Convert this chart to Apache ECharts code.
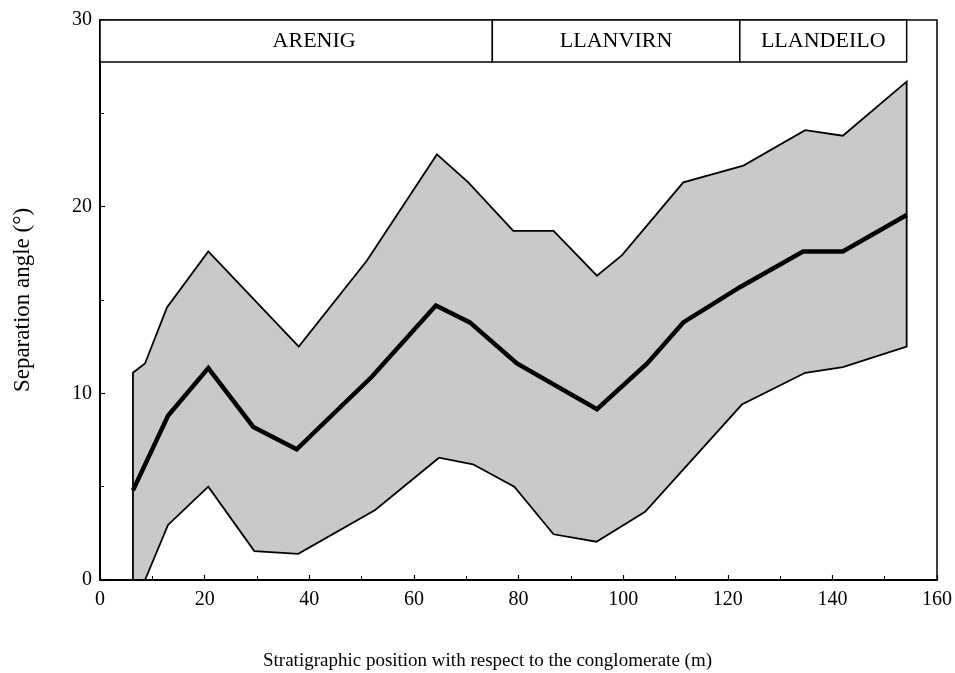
<!DOCTYPE html>
<html>
<head>
<meta charset="utf-8">
<script src="https://cdn.jsdelivr.net/npm/echarts@6/dist/echarts.min.js"></script>
<style>
  html, body { margin: 0; padding: 0; background: #fff; }
  #chart { width: 955px; height: 673px; }
</style>
</head>
<body>
<div id="chart"></div>
<script>
// envelope (upper / lower) and mean separation angle
var upperX = [6.3, 8.6, 12.8, 20.7, 38, 51, 64.4, 70.4, 79, 86.7, 95, 99.8, 111.5, 123, 134.8, 142, 154.2];
var upperY = [11.1, 11.6, 14.6, 17.6, 12.5, 17.1, 22.8, 21.3, 18.7, 18.7, 16.3, 17.4, 21.3, 22.2, 24.1, 23.8, 26.7];
var lowerX = [6.3, 8.6, 13, 20.7, 29.5, 37.9, 52.6, 64.8, 71.3, 79.2, 86.7, 94.9, 104.2, 122.7, 134.8, 142, 154.2];
var lowerY = [0, 0, 2.95, 5.0, 1.55, 1.4, 3.75, 6.55, 6.2, 5.0, 2.45, 2.05, 3.65, 9.4, 11.1, 11.4, 12.5];
var meanX = [6.3, 13, 20.7, 29.3, 37.6, 52, 64.2, 70.7, 79.7, 95, 104.6, 111.5, 122.4, 134.4, 142, 154.2];
var meanY = [4.8, 8.8, 11.35, 8.2, 7.0, 10.9, 14.7, 13.8, 11.6, 9.15, 11.6, 13.8, 15.7, 17.6, 17.6, 19.55];

// stratigraphic stages along the top
var stageNames = ['ARENIG', 'LLANVIRN', 'LLANDEILO'];
var stageStart = [0, 75, 122.3];
var stageEnd = [75, 122.3, 154.2];
var stageBand = [27.75, 30];

var xTicks = [0, 160, 20];
var yTicks = [0, 30, 10];

var font = '"Liberation Serif", "DejaVu Serif", serif';

var chart = echarts.init(document.getElementById('chart'));

var meanData = meanX.map(function (x, i) { return [x, meanY[i]]; });

var stageAreas = stageNames.map(function (name, i) {
  return [
    { name: name, coord: [stageStart[i], stageBand[0]],
      label: { offset: i === 0 ? [18, 0] : [0, 0] } },
    { coord: [stageEnd[i], stageBand[1]] }
  ];
});

var option = {
  animation: false,
  backgroundColor: '#fff',
  grid: {
    left: 100, right: 18, top: 20, bottom: 93,
    outerBoundsMode: 'none',
    containLabel: false,
    show: true, borderColor: '#000', borderWidth: 1.5
  },
  xAxis: {
    type: 'value',
    min: xTicks[0], max: xTicks[1], interval: xTicks[2],
    axisLine: { lineStyle: { color: '#000', width: 2 } },
    axisTick: { inside: true, length: 5, lineStyle: { color: '#000', width: 1.2 } },
    minorTick: { show: true, splitNumber: 2, length: 4, lineStyle: { color: '#000', width: 1 } },
    splitLine: { show: false },
    axisLabel: { color: '#000', fontFamily: font, fontSize: 20, margin: 10 },
    name: 'Stratigraphic position with respect to the conglomerate (m)',
    nameLocation: 'middle',
    nameGap: 72,
    nameTextStyle: { color: '#000', fontFamily: font, fontSize: 19, padding: [0, 62, 0, 0] }
  },
  yAxis: {
    type: 'value',
    min: yTicks[0], max: yTicks[1], interval: yTicks[2],
    axisLine: { lineStyle: { color: '#000', width: 2 } },
    axisTick: { inside: true, length: 5, lineStyle: { color: '#000', width: 1.2 } },
    minorTick: { show: true, splitNumber: 2, length: 4, lineStyle: { color: '#000', width: 1 } },
    splitLine: { show: false },
    axisLabel: { color: '#000', fontFamily: font, fontSize: 20, margin: 8 },
    name: 'Separation angle (°)',
    nameLocation: 'middle',
    nameGap: 66,
    nameTextStyle: { color: '#000', fontFamily: font, fontSize: 23 }
  },
  series: [
    {
      type: 'custom',
      name: 'envelope',
      coordinateSystem: 'cartesian2d',
      clip: true,
      data: [[0, 0]],
      renderItem: function (params, api) {
        var pts = [];
        for (var i = 0; i < upperX.length; i++) pts.push(api.coord([upperX[i], upperY[i]]));
        for (var j = lowerX.length - 1; j >= 0; j--) pts.push(api.coord([lowerX[j], lowerY[j]]));
        return {
          type: 'polygon',
          shape: { points: pts },
          style: { fill: '#c9c9c9', stroke: '#000', lineWidth: 1.8, lineJoin: 'miter' }
        };
      },
      z: 1
    },
    {
      type: 'line',
      name: 'mean',
      data: meanData,
      symbol: 'none',
      lineStyle: { color: '#000', width: 4.5, join: 'miter' },
      z: 3,
      markArea: {
        silent: true,
        itemStyle: { color: '#fff', borderColor: '#000', borderWidth: 1.5 },
        label: {
          show: true, position: 'inside', color: '#000',
          fontFamily: font, fontSize: 22
        },
        data: stageAreas
      }
    }
  ]
};

chart.setOption(option);
</script>
</body>
</html>
